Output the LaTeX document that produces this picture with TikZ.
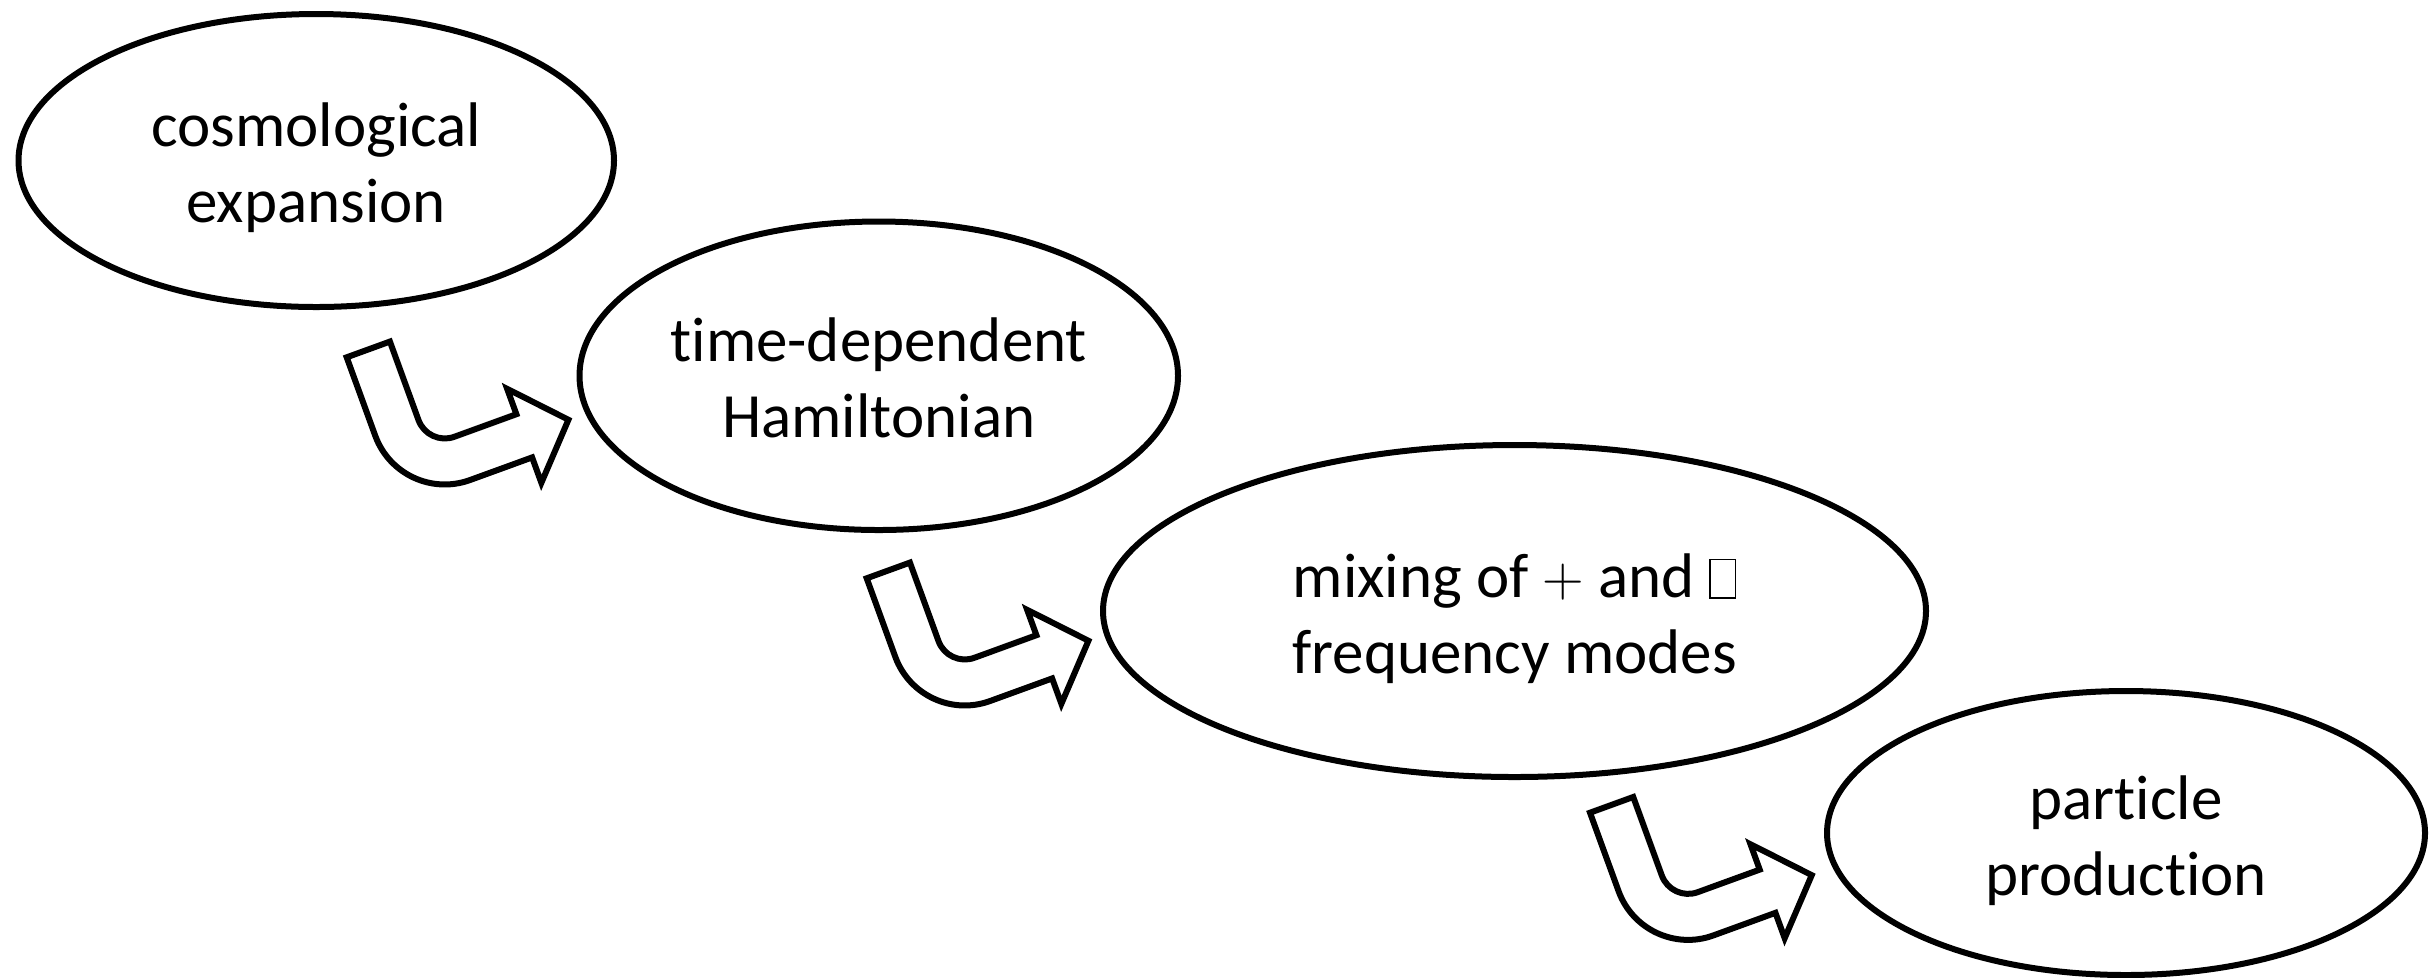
\documentclass[tikz,border=0pt]{standalone}
\usepackage{fontspec}
\setmainfont{Carlito}[Ligatures=NoCommon]
\usetikzlibrary{shapes.geometric}
\newcommand{\tofubox}{{\setlength{\fboxsep}{0pt}\setlength{\fboxrule}{0.45pt}\framebox[8.1pt]{\rule{0pt}{11.1pt}}}}
\newcommand{\bigplus}{\raisebox{0.3pt}{\fontsize{17.5}{17.5}\selectfont$+$}}
\newcommand{\topstrut}{\rule{0pt}{20.4pt}}
\newcommand{\botstrut}{\rule[-6pt]{0pt}{6pt}}
\begin{document}
\begin{tikzpicture}[x=0.3pt,y=-0.3pt,
  bubble/.style={draw, ellipse, line width=1.8pt, inner sep=0pt, align=center,
    font=\fontsize{18.9}{22.8}\selectfont},
  bentarrow/.style={draw, line width=1.8pt, line join=miter, fill=white},
  bent/.pic={
    \draw[bentarrow] (0,0) -- (46,0) -- (46,83.5)
      arc[start angle=180, end angle=90, radius=28]
      -- (140,111.5) -- (140,84.5) -- (187,134.5) -- (140,184.5) -- (140,157.5)
      -- (74,157.5)
      arc[start angle=90, end angle=180, radius=74]
      -- cycle;
  }]
\useasboundingbox (0,0) rectangle (2430,977);
\node[bubble, minimum width=178.65pt, minimum height=87.9pt] (e1) at (316.25,160.5)
  {\topstrut cosmological\\expansion\botstrut};
\node[bubble, minimum width=179.55pt, minimum height=92.55pt] (e2) at (878.75,375.75)
  {\topstrut time-dependent\\Hamiltonian\botstrut};
\node[bubble, minimum width=246.9pt, minimum height=99.6pt] (e3) at (1514.5,611)
  {\topstrut mixing of \bigplus{} and \tofubox\\frequency modes\botstrut};
\node[bubble, minimum width=179.4pt, minimum height=85.2pt] (e4) at (2126,833)
  {\topstrut particle\\production\botstrut};
\pic[rotate=20] at (346.7,357.3) {bent};
\pic[rotate=20] at (866.7,578.3) {bent};
\pic[rotate=20] at (1590,812.7) {bent};
\end{tikzpicture}
\end{document}
